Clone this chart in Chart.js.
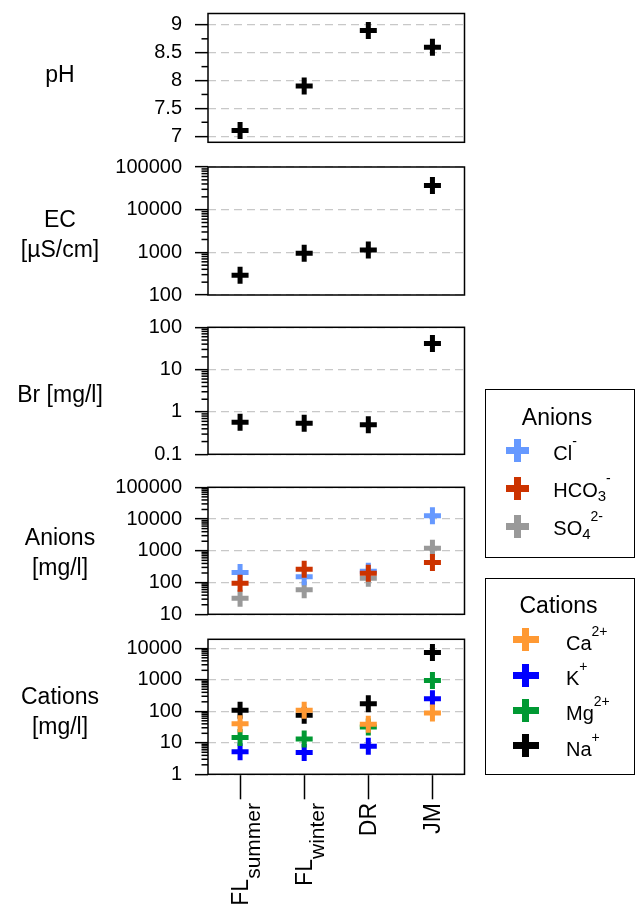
<!DOCTYPE html>
<html><head><meta charset="utf-8">
<script src="https://cdn.jsdelivr.net/npm/chart.js@4/dist/chart.umd.min.js"></script>
<style>
html,body{margin:0;padding:0;background:#fff;}
body{width:637px;height:912px;position:relative;overflow:hidden;font-family:"Liberation Sans",Arial,sans-serif;color:#000;}
canvas{position:absolute;left:0;}
.ttl{position:absolute;left:0;width:120px;text-align:center;font-size:23px;line-height:30px;white-space:nowrap;}
.xl{position:absolute;font-size:23px;line-height:23px;white-space:nowrap;transform-origin:0 0;transform:rotate(-90deg) translate(-100%,-50%);}
.xl .s{font-size:21px;position:relative;top:12px;line-height:0;}
.box{position:absolute;border:1.5px solid #000;box-sizing:border-box;}
.lt{position:absolute;font-size:23px;line-height:23px;white-space:nowrap;text-align:center;}
.le{position:absolute;font-size:20px;line-height:20px;white-space:nowrap;}
.sup{font-size:14px;position:relative;top:-14px;line-height:0;}
.sub{font-size:15px;position:relative;top:4px;line-height:0;}
.bar{position:absolute;}
</style></head><body>
<script>
// ---- data ----
const categories = ['FL summer', 'FL winter', 'DR', 'JM'];
const catMain = ['FL', 'FL', 'DR', 'JM'];
const catSub = ['summer', 'winter', '', ''];
const pH = [7.1, 7.9, 8.9, 8.6];
const EC = [292, 946, 1135, 36900];
const Br = [0.57, 0.54, 0.50, 41.4];
const Cl = [207, 151, 225, 12700];
const HCO3 = [95, 263, 197, 428];
const SO4 = [32, 59, 137, 1210];
const Ca = [40.6, 107, 38.7, 88.6];
const K = [5.2, 4.9, 7.8, 252];
const Mg = [14.8, 13.1, 31.9, 953];
const Na = [107, 75, 175, 7300];
const pHTicks = [7, 7.5, 8, 8.5, 9];
const pHMinor = [7.25, 7.75, 8.25, 8.75];
const ecTicks = [100, 1000, 10000, 100000];
const brTicks = [0.1, 1, 10, 100];
const anTicks = [10, 100, 1000, 10000, 100000];
const catTicks = [1, 10, 100, 1000, 10000];

const colors = {Cl:'#6699FF', HCO3:'#CC3300', SO4:'#999999', Ca:'#FF9933', K:'#0000FF', Mg:'#009933', Na:'#000000', black:'#000000'};

function logMinor(ticks, max) {
  const out = [];
  ticks.forEach(t => { for (let m = 2; m <= 9; m++) { if (t * m <= max) out.push(t * m); } });
  return out;
}

const panels = [
  {top:7.3, bottom:142.3, type:'linear', min:6.89, max:9.205, ticks:pHTicks, minor:pHMinor,
   sets:[{label:'pH', data:pH, color:colors.black, order:0}], title:['pH'], tc:74},
  {top:167, bottom:295, type:'logarithmic', min:100, max:100000, ticks:ecTicks,
   sets:[{label:'EC', data:EC, color:colors.black, order:0}], title:['EC','[µS/cm]'], tc:234},
  {top:327.3, bottom:454.3, type:'logarithmic', min:0.1, max:100, ticks:brTicks,
   sets:[{label:'Br', data:Br, color:colors.black, order:0}], title:['Br [mg/l]'], tc:393.5},
  {top:487.3, bottom:614.3, type:'logarithmic', min:10, max:100000, ticks:anTicks,
   sets:[{label:'Cl-', data:Cl, color:colors.Cl, order:1},
         {label:'HCO3-', data:HCO3, color:colors.HCO3, order:0},
         {label:'SO4 2-', data:SO4, color:colors.SO4, order:2}], title:['Anions','[mg/l]'], tc:552},
  {top:639.3, bottom:774.3, type:'logarithmic', min:1, max:19300, ticks:catTicks, xaxis:true,
   sets:[{label:'Na+', data:Na, color:colors.Na, order:3},
         {label:'K+', data:K, color:colors.K, order:2},
         {label:'Mg2+', data:Mg, color:colors.Mg, order:1},
         {label:'Ca2+', data:Ca, color:colors.Ca, order:0}], title:['Cations','[mg/l]'], tc:711}
];
panels.forEach(p => { if (!p.minor) p.minor = logMinor(p.ticks, p.max); });

const RIGHT = 464.5;
const charts = [];
panels.forEach((p, idx) => {
  const cTop = Math.max(0, Math.floor(p.top - 14));
  const xh = p.xaxis ? 25 : 0;
  const cBottom = Math.ceil(p.bottom + xh + (p.xaxis ? 3 : 14));
  const cv = document.createElement('canvas');
  cv.width = 637; cv.height = cBottom - cTop;
  cv.style.top = cTop + 'px';
  cv.style.width = '637px'; cv.style.height = (cBottom - cTop) + 'px';
  document.body.appendChild(cv);
  const padTop = p.top - cTop;
  const padBottom = cBottom - p.bottom - xh;
  const frame = {
    id: 'frame' + idx,
    afterDraw(chart) {
      const {ctx, chartArea: a} = chart;
      const ys = chart.scales.y;
      ctx.save();
      ctx.strokeStyle = '#000';
      ctx.lineWidth = 1.5;
      p.minor.forEach(v => {
        if (v < ys.min || v > ys.max) return;
        const y = ys.getPixelForValue(v);
        ctx.beginPath(); ctx.moveTo(a.left - 6.5, y); ctx.lineTo(a.left, y); ctx.stroke();
      });
      ctx.strokeRect(a.left, a.top, a.right - a.left, a.bottom - a.top);
      ctx.restore();
    }
  };
  const chart = new Chart(cv, {
    type: 'line',
    data: {
      labels: categories,
      datasets: p.sets.map(s => ({
        label: s.label, data: s.data, order: s.order, showLine: false, clip: false,
        pointStyle: 'cross', pointRadius: 8.5, pointHoverRadius: 8.5, pointBorderWidth: 5,
        pointHoverBorderWidth: 5, pointBorderColor: s.color, pointBackgroundColor: s.color,
        borderColor: s.color, backgroundColor: s.color
      }))
    },
    options: {
      responsive: false, animation: false, events: [], devicePixelRatio: 1,
      layout: {padding: {left: 0, right: 637 - RIGHT, top: padTop, bottom: padBottom}},
      plugins: {legend: {display: false}, tooltip: {enabled: false}},
      scales: {
        x: {
          type: 'category', offset: true, display: !!p.xaxis,
          grid: {display: true, drawOnChartArea: false, drawTicks: true, tickLength: 25,
                 tickColor: '#000', tickWidth: 1.5, offset: false, color: '#000'},
          border: {display: false},
          ticks: {display: false},
          afterFit(s) { s.height = xh; s.paddingLeft = 0; s.paddingRight = 0; s.paddingTop = 0; s.paddingBottom = 0; }
        },
        y: {
          type: p.type, min: p.min, max: p.max, bounds: 'data',
          afterBuildTicks(s) { s.ticks = p.ticks.map(v => ({value: v})); },
          afterFit(s) { s.width = 208; s.paddingTop = 0; s.paddingBottom = 0; },
          ticks: {autoSkip: false, padding: 13, color: '#000',
                  font: {size: 20, family: 'Liberation Sans'}, callback: (v) => String(v)},
          grid: {color: '#c8c8c8', lineWidth: 1.3, tickLength: 13, tickColor: '#000', tickWidth: 1.5, drawTicks: true},
          border: {display: false, dash: [8, 5]}
        }
      }
    },
    plugins: [frame]
  });
  charts.push(chart);

  // panel title
  const t = document.createElement('div');
  t.className = 'ttl';
  t.innerHTML = p.title.join('<br>');
  t.style.top = (p.tc - p.title.length * 15) + 'px';
  document.body.appendChild(t);
});

// x-axis labels (rotated, with subscripts), placed at the library's tick pixels
const bottomChart = charts[charts.length - 1];
categories.forEach((c, i) => {
  const x = bottomChart.scales.x.getPixelForValue(i);
  const d = document.createElement('div');
  d.className = 'xl';
  d.innerHTML = catMain[i] + (catSub[i] ? '<span class="s">' + catSub[i] + '</span>' : '');
  d.style.left = x + 'px';
  d.style.top = '803px';
  document.body.appendChild(d);
});

// legends
function addBox(l, t, w, h) {
  const b = document.createElement('div'); b.className = 'box';
  b.style.left = l + 'px'; b.style.top = t + 'px'; b.style.width = w + 'px'; b.style.height = h + 'px';
  document.body.appendChild(b);
}
function addCross(cx, cy, w, h, th, color) {
  [[cx - w / 2, cy - th / 2, w, th], [cx - th / 2, cy - h / 2, th, h]].forEach(r => {
    const e = document.createElement('div'); e.className = 'bar';
    e.style.left = r[0] + 'px'; e.style.top = r[1] + 'px'; e.style.width = r[2] + 'px'; e.style.height = r[3] + 'px';
    e.style.background = color;
    document.body.appendChild(e);
  });
}
function addText(cls, html, left, baseline, size, width) {
  const e = document.createElement('div'); e.className = cls;
  e.innerHTML = html;
  e.style.left = left + 'px';
  e.style.top = (baseline - 0.8465 * size) + 'px';
  if (width) e.style.width = width + 'px';
  document.body.appendChild(e);
}
addBox(485, 389, 150, 169);
addText('lt', 'Anions', 486, 425, 23, 142);
const anLeg = [
  {html:'Cl<span class="sup">-</span>', color:colors.Cl, cy:450.7, base:460},
  {html:'HCO<span class="sub">3</span><span class="sup">-</span>', color:colors.HCO3, cy:488.3, base:496.7},
  {html:'SO<span class="sub">4</span><span class="sup">2-</span>', color:colors.SO4, cy:526, base:535}
];
anLeg.forEach(e => { addCross(517.3, e.cy, 23, 23, 7, e.color); addText('le', e.html, 553.3, e.base, 20); });

addBox(485, 578, 150, 197);
addText('lt', 'Cations', 486, 613.3, 23, 145);
const catLeg = [
  {html:'Ca<span class="sup">2+</span>', color:colors.Ca, cy:639.3, base:650},
  {html:'K<span class="sup">+</span>', color:colors.K, cy:675, base:685},
  {html:'Mg<span class="sup">2+</span>', color:colors.Mg, cy:710, base:720},
  {html:'Na<span class="sup">+</span>', color:colors.Na, cy:745.7, base:755.5}
];
catLeg.forEach(e => { addCross(525.8, e.cy, 26, 23, 7, e.color); addText('le', e.html, 566, e.base, 20); });
</script>
</body></html>
